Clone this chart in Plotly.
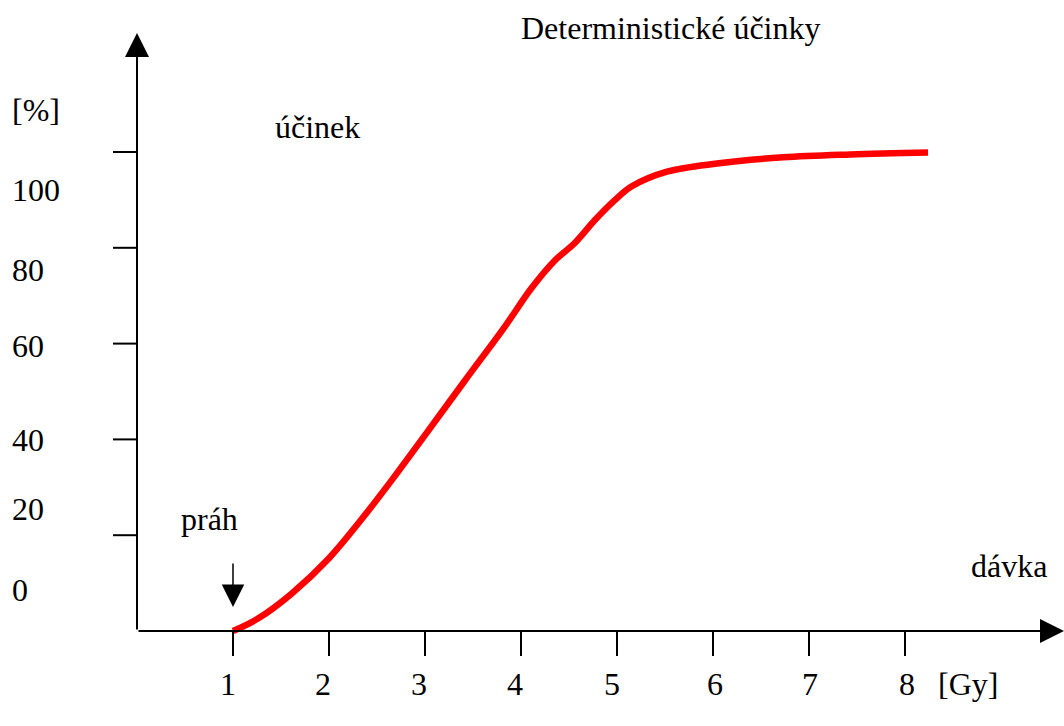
import plotly.graph_objects as go

# Data
dose = [1.0, 1.26, 1.61, 2.0, 2.31, 2.65, 3.0, 3.42, 3.83, 4.11, 4.35, 4.56, 4.77, 4.98,
        5.15, 5.52, 6.04, 6.73, 7.43, 8.24]
effect = [0.0, 2.6, 7.8, 15.2, 22.6, 31.4, 40.9, 52.4, 63.5, 71.6, 77.3, 81.0, 85.8, 90.0,
          92.8, 95.9, 97.6, 98.9, 99.5, 99.9]

x_ticks = [1, 2, 3, 4, 5, 6, 7, 8]
x_tick_labels = ["1", "2", "3", "4", "5", "6", "7", "8"]
y_ticks = [20, 40, 60, 80, 100]
y_tick_labels = ["100", "80", "60", "40", "20", "0"]

title = "Deterministické účinky"
FONT = "Liberation Serif, Times New Roman, serif"
FS = 32

W, H = 1064, 726
X0_PX, Y0_PX = 137, 631   # pixel location of data origin
PX_X = 96.0                # pixels per Gy
PX_Y = 4.79                # pixels per %

def px_to_x(px):
    return (px - X0_PX) / PX_X

def py_to_y(py):
    return (Y0_PX - py) / PX_Y

fig = go.Figure()

fig.add_trace(go.Scatter(
    x=dose, y=effect, mode="lines",
    line=dict(color="#ff0000", width=6.5, shape="spline", smoothing=1.0),
    hoverinfo="skip", showlegend=False,
))

shapes = []
# x ticks (downward)
for t in x_ticks:
    shapes.append(dict(type="line", xref="x", yref="y", x0=t, x1=t,
                       y0=0, y1=py_to_y(656), line=dict(color="black", width=2)))
# y ticks (leftward)
for t in y_ticks:
    shapes.append(dict(type="line", xref="x", yref="y", x0=px_to_x(113), x1=0,
                       y0=t, y1=t, line=dict(color="black", width=2)))

annotations = []
# axis arrows
annotations.append(dict(x=px_to_x(1064), y=0, ax=0, ay=0, xref="x", yref="y",
                        axref="x", ayref="y", text="", showarrow=True,
                        arrowhead=2, arrowsize=2.4, arrowwidth=2, arrowcolor="black",
                        standoff=0, startstandoff=0))
annotations.append(dict(x=0, y=py_to_y(33), ax=0, ay=0, xref="x", yref="y",
                        axref="x", ayref="y", text="", showarrow=True,
                        arrowhead=2, arrowsize=2.4, arrowwidth=2, arrowcolor="black",
                        standoff=0, startstandoff=0))
# threshold arrow
annotations.append(dict(x=1, y=py_to_y(607), ax=1, ay=py_to_y(562), xref="x", yref="y",
                        axref="x", ayref="y", text="", showarrow=True,
                        arrowhead=2, arrowsize=3.0, arrowwidth=1.5, arrowcolor="black",
                        standoff=0, startstandoff=0))

def label(text, px, py, xanchor="center"):
    annotations.append(dict(x=px_to_x(px), y=py_to_y(py), xref="x", yref="y",
                            text=text, showarrow=False, xanchor=xanchor, yanchor="middle",
                            font=dict(family=FONT, size=FS, color="black")))

# x tick labels
x_label_px = [228, 323, 419, 515, 612, 715, 810, 907]
for lab, px in zip(x_tick_labels, x_label_px):
    label(lab, px, 684)
label("[Gy]", 968, 684)

# y tick labels (placed as in the reference)
y_label_py = [190, 270, 346, 440, 509, 590]
for lab, py in zip(y_tick_labels, y_label_py):
    label(lab, 10, py, xanchor="left")
label("[%]", 10, 110, xanchor="left")

label(title, 670, 28)
label("účinek", 317, 127)
label("práh", 209, 519)
label("dávka", 1009, 566)

fig.update_layout(
    width=W, height=H,
    margin=dict(l=0, r=0, t=0, b=0),
    paper_bgcolor="white", plot_bgcolor="white",
    xaxis=dict(range=[px_to_x(0), px_to_x(W)], visible=False, fixedrange=True),
    yaxis=dict(range=[py_to_y(H), py_to_y(0)], visible=False, fixedrange=True),
    shapes=shapes, annotations=annotations, showlegend=False,
)

fig.write_html("out.html", config={"displayModeBar": False},
               post_script="document.body.style.margin='0';document.body.style.overflow='hidden';")
